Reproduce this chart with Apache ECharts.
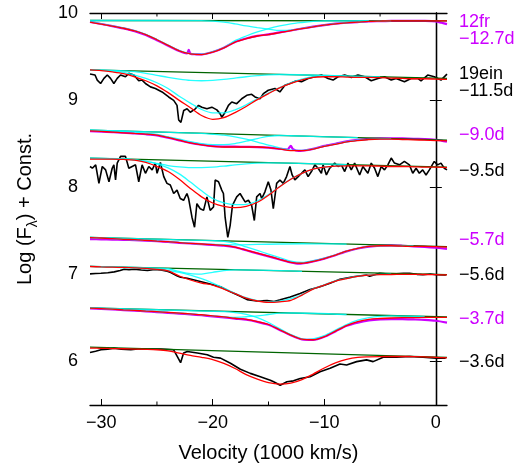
<!DOCTYPE html>
<html><head><meta charset="utf-8">
<script src="https://cdn.jsdelivr.net/npm/echarts@6/dist/echarts.min.js"></script>
<style>html,body{margin:0;padding:0;background:#fff}#c{width:532px;height:468px}</style>
</head><body><div id="c"></div>
<script>
// ---------- DATA ----------
const velGrid = [-31,-30,-29,-28,-27,-26,-25,-24,-23,-22,-21,-20,-19,-18,-17,-16,-15,-14,-13,-12,-11,-10,-9,-8,-7,-6,-5,-4,-3,-2,-1,0,1];
const tickMajorX = [-30,-20,-10,0];
const tickMinorX = [-25,-15,-5];
const tickY = [6,7,8,9,10];
const labelTexts = ['12fr','\u221212.7d','19ein','\u221211.5d','\u22129.0d','\u22129.5d','\u22125.7d','\u22125.6d','\u22123.7d','\u22123.6d'];

// 12fr -12.7d
const s1Fit = [9.895,9.872,9.849,9.825,9.794,9.752,9.693,9.628,9.566,9.531,9.523,9.550,9.600,9.666,9.705,9.736,9.752,9.775,9.798,9.821,9.841,9.860,9.876,9.887,9.895,9.903,9.907,9.910,9.910,9.910,9.910,9.910,9.910];
const s1Cont = [[-31,9.914],[1,9.910]];
const s1CompA = [[-31,9.900],[-30,9.876],[-29,9.852],[-28,9.828],[-27,9.797],[-26,9.755],[-25,9.696],[-24,9.631],[-23,9.569],[-22,9.534],[-21,9.527],[-20,9.556],[-19,9.604],[-18,9.682],[-17,9.736],[-16,9.783],[-15,9.821],[-14,9.852],[-13,9.876],[-12,9.891],[-11,9.903],[-10,9.910],[-6,9.911]];
const s1CompB = [[-31,9.914],[-21,9.913],[-20,9.907],[-19,9.895],[-18,9.875],[-17,9.852],[-16,9.833],[-15,9.816],[-14,9.800],[-13,9.803],[-12,9.823],[-11,9.843],[-10,9.862],[-9,9.877],[-8,9.888],[-7,9.896],[-6,9.903],[-5,9.907],[-4,9.910]];
const s1Data = [[-31,9.898],[-30,9.874],[-29,9.850],[-28,9.824],[-27,9.792],[-26,9.748],[-25,9.688],[-24,9.624],[-23,9.563],[-22.6,9.543],[-22.3,9.536],[-22.15,9.578],[-22.0,9.533],[-21.5,9.526],[-21,9.525],[-20,9.552],[-19,9.602],[-18,9.668],[-17,9.708],[-16,9.738],[-15,9.754],[-14,9.777],[-13,9.799],[-12,9.822],[-11,9.843],[-10,9.861],[-9,9.877],[-8,9.888],[-7,9.896],[-6,9.903],[-5,9.906],[-4,9.909],[-3,9.910],[-2,9.910],[-1,9.909],[0,9.903],[0.5,9.888],[1,9.873]];

// 19ein -11.5d
const s2Fit = [9.346,9.338,9.323,9.303,9.268,9.222,9.164,9.086,8.997,8.912,8.823,8.780,8.799,8.857,8.927,9.005,9.075,9.140,9.191,9.233,9.261,9.268,9.268,9.264,9.261,9.261,9.257,9.253,9.249,9.245,9.245,9.241,9.237];
const s2Cont = [[-31,9.346],[1,9.249]];
const s2CompA = [[-31,9.346],[-30,9.342],[-29,9.334],[-28,9.319],[-27,9.288],[-26,9.249],[-25,9.199],[-24,9.133],[-23,9.044],[-22,8.966],[-21,8.893],[-20,8.854],[-19,8.854],[-18,8.888],[-17,8.947],[-16,9.016],[-15,9.082],[-14,9.144],[-13,9.199],[-12,9.241],[-11,9.268],[-10,9.280],[-9,9.279],[-5,9.267]];
const s2CompB = [[-31,9.346],[-29,9.342],[-27,9.327],[-26,9.307],[-25,9.284],[-24,9.261],[-23,9.241],[-22,9.226],[-21,9.222],[-20,9.226],[-19,9.237],[-18,9.253],[-17,9.268],[-16,9.280],[-15,9.290],[-14,9.294],[-8,9.276]];
const s2Data = [[-31,9.299],[-30.55,9.288],[-30.35,9.230],[-30.05,9.191],[-29.75,9.249],[-29.45,9.288],[-29.16,9.249],[-28.86,9.191],[-28.56,9.249],[-28.26,9.288],[-27.82,9.268],[-27.52,9.307],[-27.07,9.288],[-26.63,9.222],[-26.33,9.230],[-26.03,9.191],[-25.58,9.152],[-25.14,9.133],[-24.54,9.094],[-23.95,9.036],[-23.5,8.997],[-23.2,8.939],[-23.05,8.772],[-22.85,8.745],[-22.6,8.881],[-22.3,8.900],[-22.01,8.861],[-21.56,8.900],[-21.27,8.939],[-20.97,8.919],[-20.52,8.900],[-20.08,8.919],[-19.63,8.888],[-19.33,8.842],[-19.18,8.803],[-18.89,8.861],[-18.59,8.939],[-18.29,8.978],[-17.85,8.959],[-17.4,9.016],[-16.95,9.055],[-16.51,9.067],[-16.21,9.036],[-15.76,9.016],[-15.46,9.075],[-15.02,9.113],[-14.42,9.133],[-13.98,9.094],[-13.53,9.171],[-13.08,9.191],[-12.49,9.222],[-12.04,9.210],[-11.45,9.249],[-10.85,9.268],[-10.26,9.288],[-9.66,9.249],[-9.21,9.230],[-8.77,9.268],[-8.17,9.288],[-7.57,9.261],[-6.98,9.288],[-6.38,9.268],[-5.79,9.222],[-5.19,9.249],[-4.6,9.268],[-4.0,9.230],[-3.56,9.249],[-2.81,9.210],[-2.22,9.249],[-1.62,9.249],[-1.33,9.222],[-0.73,9.288],[-0.14,9.268],[0.46,9.230],[1.0,9.299]];

// -9.0d
const s3Fit = [8.648,8.641,8.633,8.625,8.617,8.610,8.598,8.571,8.540,8.509,8.486,8.470,8.462,8.462,8.462,8.462,8.455,8.439,8.421,8.419,8.437,8.470,8.493,8.520,8.536,8.548,8.552,8.552,8.548,8.544,8.540,8.536,8.532];
const s3Cont = [[-31,8.656],[1,8.540]];
const s3CompA = [[-31,8.656],[-29,8.648],[-27,8.633],[-26,8.621],[-25,8.606],[-24,8.579],[-23,8.552],[-22,8.524],[-21,8.501],[-20,8.490],[-19,8.490],[-18,8.501],[-17,8.528],[-16,8.559],[-15,8.583],[-14,8.594],[-13,8.591],[-7,8.569]];
const s3CompB = [[-31,8.656],[-21,8.617],[-20,8.608],[-19,8.597],[-18,8.578],[-17,8.551],[-16,8.519],[-15,8.483],[-14,8.450],[-13,8.426],[-12,8.422],[-11,8.439],[-10,8.472],[-9,8.496],[-8,8.522],[-7,8.539],[-6,8.550],[-5,8.554],[-4,8.555]];
const s3Data = [[-31,8.645],[-30,8.638],[-29,8.633],[-28,8.627],[-27,8.617],[-26,8.608],[-25,8.595],[-24,8.568],[-23,8.538],[-22,8.510],[-21,8.488],[-20,8.472],[-19,8.467],[-18,8.465],[-17,8.463],[-16,8.461],[-15,8.455],[-14,8.441],[-13.3,8.433],[-13,8.475],[-12.8,8.437],[-12.3,8.417],[-12,8.419],[-11,8.441],[-10,8.474],[-9,8.499],[-8,8.526],[-7,8.544],[-6,8.556],[-5,8.561],[-4,8.562],[-3,8.560],[-2,8.555],[-1,8.553],[0,8.545],[0.5,8.535],[1,8.523]];

// -9.5d
const s4Fit = [8.323,8.323,8.323,8.319,8.311,8.284,8.238,8.180,8.091,7.986,7.889,7.819,7.780,7.765,7.780,7.827,7.908,8.005,8.091,8.160,8.207,8.230,8.242,8.246,8.246,8.246,8.242,8.238,8.238,8.234,8.230,8.230,8.226];
const s4Cont = [[-31,8.335],[1,8.230]];
const s4CompA = [[-31,8.331],[-28,8.323],[-27,8.315],[-26,8.300],[-25,8.269],[-24,8.222],[-23,8.153],[-22,8.059],[-21,7.959],[-20,7.870],[-19,7.819],[-18,7.800],[-17,7.804],[-16,7.842],[-15,7.916],[-14,8.009],[-13,8.094],[-12,8.160],[-11,8.207],[-10,8.230],[-9,8.242],[-8,8.253]];
const s4CompB = [[-31,8.335],[-28,8.327],[-27,8.315],[-26,8.296],[-25,8.273],[-24,8.249],[-23,8.234],[-22,8.226],[-21,8.226],[-20,8.230],[-19,8.242],[-18,8.257],[-17,8.269],[-16,8.277],[-15,8.280],[-8,8.260]];
const s4Data = [[-31,8.238],[-30.79,8.218],[-30.49,8.257],[-30.2,8.044],[-29.9,8.238],[-29.6,8.199],[-29.3,8.063],[-29.01,8.218],[-28.86,8.257],[-28.71,8.083],[-28.56,8.277],[-28.26,8.354],[-28.11,8.335],[-27.82,8.354],[-27.52,8.218],[-27.22,8.238],[-26.92,8.257],[-26.63,8.063],[-26.33,8.257],[-26.03,8.160],[-25.73,8.238],[-25.43,8.199],[-25.14,8.277],[-24.99,8.160],[-24.69,8.284],[-24.39,8.122],[-24.1,8.044],[-23.8,8.025],[-23.5,7.928],[-23.2,7.967],[-22.91,7.870],[-22.61,7.850],[-22.31,7.928],[-22.16,7.870],[-21.86,7.656],[-21.63,7.540],[-21.42,7.811],[-21.12,7.753],[-20.82,7.734],[-20.52,7.889],[-20.23,7.734],[-19.93,7.773],[-19.78,8.083],[-19.48,8.063],[-19.19,7.967],[-19.04,7.928],[-18.89,7.656],[-18.65,7.424],[-18.44,7.560],[-18.23,7.792],[-17.85,7.889],[-17.55,7.928],[-17.1,7.831],[-16.8,7.850],[-16.51,7.792],[-16.27,7.618],[-16.06,7.889],[-15.76,7.928],[-15.61,7.870],[-15.32,7.947],[-15.02,8.063],[-14.78,7.967],[-14.57,7.753],[-14.27,8.044],[-13.98,8.083],[-13.68,8.044],[-13.38,8.122],[-13.08,8.238],[-12.88,8.141],[-12.64,8.083],[-12.34,8.122],[-12.04,8.160],[-11.74,8.199],[-11.45,8.122],[-11.15,8.180],[-10.85,8.257],[-10.55,8.218],[-10.26,8.160],[-10.11,8.257],[-9.81,8.141],[-9.51,8.218],[-9.07,8.277],[-8.77,8.238],[-8.47,8.257],[-8.17,8.180],[-7.88,8.277],[-7.58,8.199],[-7.28,8.277],[-6.83,8.141],[-6.54,8.238],[-6.09,8.160],[-5.79,8.277],[-5.49,8.218],[-5.2,8.122],[-4.9,8.238],[-4.6,8.199],[-4.3,8.257],[-4.0,8.335],[-3.71,8.277],[-3.26,8.257],[-2.82,8.296],[-2.37,8.257],[-2.07,8.160],[-1.77,8.218],[-1.48,8.160],[-1.18,8.199],[-0.88,8.141],[-0.58,8.199],[-0.14,8.296],[0.16,8.257],[0.46,8.277],[0.76,8.218],[1.0,8.199]];

// -5.7d
const s5Fit = [7.421,7.417,7.410,7.402,7.398,7.390,7.382,7.375,7.363,7.355,7.348,7.340,7.332,7.313,7.278,7.243,7.208,7.173,7.138,7.127,7.150,7.181,7.220,7.266,7.297,7.320,7.328,7.328,7.324,7.320,7.320,7.317,7.313];
const s5Cont = [[-31,7.425],[1,7.317]];
const s5CompA = [[-31,7.423],[-28,7.403],[-26,7.390],[-24,7.376],[-22,7.356],[-20,7.343],[-18,7.338],[-16,7.343],[-14,7.348],[-12,7.351],[-10,7.350],[-8,7.347]];
const s5CompB = [[-31,7.425],[-22,7.393],[-20,7.386],[-19,7.379],[-18,7.355],[-17,7.315],[-16,7.274],[-15,7.233],[-14,7.193],[-13,7.152],[-12,7.136],[-11,7.156],[-10,7.185],[-9,7.222],[-8,7.266],[-7,7.297],[-6,7.320],[-5,7.328],[-2,7.327]];
const s5Data = [[-31,7.404],[-30,7.402],[-29,7.399],[-28,7.396],[-27,7.393],[-26,7.387],[-25,7.380],[-24,7.373],[-23,7.362],[-22,7.354],[-21,7.346],[-20,7.338],[-19,7.330],[-18,7.311],[-17,7.276],[-16,7.241],[-15,7.206],[-14,7.171],[-13,7.137],[-12.3,7.122],[-12,7.124],[-11,7.148],[-10,7.180],[-9,7.219],[-8,7.264],[-7,7.296],[-6,7.319],[-5,7.330],[-4,7.332],[-3,7.328],[-2,7.322],[-1,7.315],[0,7.305],[1,7.292]];

// -5.6d
const s6Fit = [7.090,7.085,7.082,7.079,7.075,7.069,7.057,7.040,6.981,6.935,6.900,6.877,6.830,6.778,6.726,6.694,6.678,6.685,6.702,6.761,6.830,6.877,6.923,6.952,6.976,6.990,6.996,6.998,6.999,6.999,6.998,6.996,6.993];
const s6Cont = [[-31,7.092],[1,6.996]];
const s6CompA = [[-31,7.092],[-25,7.072],[-24,7.064],[-23,7.033],[-22,7.008],[-21,7.003],[-20,7.023],[-19,7.043],[-18,7.051],[-12,7.035]];
const s6CompB = [[-31,7.092],[-25,7.059],[-24,7.044],[-23,7.022],[-22,6.991],[-21,6.950],[-20,6.899],[-19,6.842],[-18,6.783],[-17,6.732],[-16,6.697],[-15,6.682],[-14,6.691],[-13,6.720],[-12,6.765],[-11,6.833],[-10,6.880],[-9,6.925],[-8,6.954],[-7,6.978],[-6,6.992],[-5,6.999],[-4,7.003]];
const s6Data = [[-31,7.005],[-30.5,7.010],[-30.02,7.013],[-29.4,7.018],[-28.83,7.028],[-28.3,7.045],[-27.94,7.059],[-27.5,7.052],[-27.04,7.059],[-26.4,7.050],[-25.85,7.044],[-25.2,7.055],[-24.66,7.051],[-24.2,7.040],[-23.77,7.020],[-23.17,6.981],[-22.88,6.966],[-22.28,6.955],[-21.38,6.927],[-20.49,6.897],[-19.3,6.857],[-18.41,6.799],[-17.52,6.749],[-16.92,6.710],[-16.03,6.694],[-15.13,6.700],[-14.5,6.688],[-13.95,6.708],[-13.06,6.741],[-12.17,6.780],[-11.28,6.827],[-10.38,6.857],[-9.49,6.897],[-8.6,6.943],[-7.41,6.973],[-6.22,6.993],[-5.93,6.978],[-5.03,7.013],[-4.3,7.003],[-3.54,7.005],[-2.9,7.012],[-2.35,7.013],[-1.7,7.000],[-1.16,6.995],[-0.5,7.003],[0.03,6.996],[0.9,6.993]];

// -3.7d
const s7Fit = [6.612,6.606,6.600,6.593,6.586,6.578,6.571,6.563,6.555,6.546,6.536,6.522,6.511,6.496,6.484,6.458,6.424,6.364,6.302,6.255,6.249,6.284,6.348,6.412,6.458,6.484,6.493,6.499,6.502,6.503,6.505,6.506,6.507];
const s7Cont = [[-31,6.614],[1,6.510]];
const s7CompA = [[-31,6.614],[-29,6.602],[-27,6.588],[-26,6.579],[-25,6.572],[-24,6.563],[-23,6.555],[-22,6.546],[-21,6.536],[-20,6.523],[-19,6.513],[-18,6.507],[-17,6.513],[-16,6.522],[-15,6.539],[-14,6.554],[-13,6.556],[-8,6.539]];
const s7CompB = [[-31,6.614],[-19,6.571],[-18,6.561],[-17,6.540],[-16,6.503],[-15,6.447],[-14,6.376],[-13,6.307],[-12,6.259],[-11.5,6.254],[-11,6.259],[-10,6.297],[-9,6.360],[-8,6.424],[-7,6.474],[-6,6.504],[-5,6.518],[-4,6.522],[-1,6.516]];
const s7Data = [[-31,6.610],[-30,6.604],[-29,6.597],[-28,6.590],[-27,6.583],[-26,6.575],[-25,6.567],[-24,6.558],[-23,6.549],[-22,6.540],[-21,6.530],[-20,6.517],[-19,6.506],[-18,6.492],[-17,6.480],[-16,6.455],[-15,6.421],[-14,6.362],[-13,6.300],[-12,6.252],[-11,6.247],[-10,6.283],[-9,6.345],[-8,6.409],[-7,6.446],[-6,6.470],[-5,6.482],[-4,6.486],[-3,6.486],[-2,6.482],[-1,6.477],[0,6.467],[1,6.446]];

// -3.6d
const s8Fit = [6.153,6.151,6.148,6.146,6.142,6.139,6.134,6.122,6.096,6.070,6.047,6.020,5.977,5.919,5.849,5.797,5.756,5.739,5.750,5.791,5.855,5.925,5.983,6.024,6.047,6.053,6.056,6.057,6.057,6.056,6.053,6.047,6.041];
const s8Cont = [[-31,6.165],[1,6.047]];
const s8Data = [[-31,6.103],[-30.5,6.118],[-30.02,6.134],[-29.4,6.140],[-28.86,6.153],[-28.2,6.140],[-27.34,6.134],[-26.5,6.145],[-25.82,6.141],[-24.66,6.141],[-23.5,6.134],[-23.17,6.056],[-22.88,5.986],[-22.61,6.096],[-22.28,6.114],[-21.38,6.096],[-20.49,6.076],[-19.93,6.049],[-19.3,6.038],[-18.41,5.979],[-17.52,5.910],[-16.63,5.863],[-15.73,5.824],[-14.84,5.785],[-14.54,5.766],[-13.95,5.727],[-13.35,5.766],[-12.76,5.777],[-12.16,5.805],[-11.27,5.824],[-10.38,5.882],[-9.48,5.921],[-8.59,5.971],[-8.0,5.960],[-7.1,5.998],[-6.21,6.018],[-5.62,5.998],[-4.72,6.049],[-3.53,6.049],[-2.34,6.056],[-1.15,6.049],[0.04,6.038],[0.88,6.038]];

// ---------- STYLE / LAYOUT ----------
const FONT = '"Liberation Sans", Arial, Helvetica, sans-serif';
const MAG = '#cc00ff', BLK = '#000000', RED = '#ff0000', CYAN = '#00ffff', GREEN = '#006400';
const labelLayout = [
  {y:21.7, c:MAG},{y:39.3, c:MAG},{y:74, c:BLK},{y:90.7, c:BLK},{y:135, c:MAG},
  {y:170.7, c:BLK},{y:240, c:MAG},{y:275, c:BLK},{y:319.3, c:MAG},{y:361.7, c:BLK}
];

function gridPairs(ys){ return velGrid.map((x,i)=>[x, ys[i]]); }

const spectra = [
  {data:s1Data, col:MAG, cont:s1Cont, comps:[s1CompA,s1CompB], fit:s1Fit},
  {data:s2Data, col:BLK, cont:s2Cont, comps:[s2CompA,s2CompB], fit:s2Fit},
  {data:s3Data, col:MAG, cont:s3Cont, comps:[s3CompA,s3CompB], fit:s3Fit},
  {data:s4Data, col:BLK, cont:s4Cont, comps:[s4CompA,s4CompB], fit:s4Fit},
  {data:s5Data, col:MAG, cont:s5Cont, comps:[s5CompA,s5CompB], fit:s5Fit},
  {data:s6Data, col:BLK, cont:s6Cont, comps:[s6CompA,s6CompB], fit:s6Fit},
  {data:s7Data, col:MAG, cont:s7Cont, comps:[s7CompA,s7CompB], fit:s7Fit},
  {data:s8Data, col:BLK, cont:s8Cont, comps:[], fit:s8Fit}
];

const base = {type:'line', symbol:'none', silent:true, animation:false, xAxisIndex:0, yAxisIndex:0};
const series = [];
spectra.forEach(sp => {
  const isMag = sp.col === MAG;
  series.push(Object.assign({}, base, {data: sp.data, smooth: isMag ? 0.25 : false, z:2,
    lineStyle:{color: sp.col, width: isMag ? 2.2 : 1.6}}));
  series.push(Object.assign({}, base, {data: sp.cont, z:3, lineStyle:{color: GREEN, width:1.3}}));
  sp.comps.forEach(c => series.push(Object.assign({}, base, {data: c, smooth:0.3, z:4,
    lineStyle:{color: CYAN, width:1.3, opacity:0.85}})));
  series.push(Object.assign({}, base, {data: gridPairs(sp.fit), smooth:0.3, z:5,
    lineStyle:{color: RED, width:1.3}}));
});
// minor ticks on bottom and top through the axis scale
series.push({type:'custom', silent:true, animation:false, xAxisIndex:0, yAxisIndex:0, z:10, clip:false,
  data: tickMinorX.map(v => [v, 5.5]),
  renderItem: (params, api) => {
    const b = api.coord([api.value(0), 5.5]);
    const t = api.coord([api.value(0), 10]);
    return {type:'group', children:[
      {type:'line', shape:{x1:b[0], y1:b[1], x2:b[0], y2:b[1]-3.5}, style:{stroke:'#000', lineWidth:1}},
      {type:'line', shape:{x1:t[0], y1:t[1], x2:t[0], y2:t[1]+3.5}, style:{stroke:'#000', lineWidth:1}}
    ]};
  }});

const axisLineStyle = {show:true, lineStyle:{color:'#000', width:1.3}};
const tickStyle = {color:'#000', width:1};
const labelStyle = {color:'#000', fontSize:18, fontFamily:FONT};
const fmt = v => String(v).replace('-', '\u2212');

const option = {
  animation:false,
  backgroundColor:'#fff',
  grid:{left:90, right:85, top:13, bottom:63, containLabel:false},
  xAxis:[
    {type:'value', min:-31, max:1, position:'bottom', axisLine:axisLineStyle,
     axisTick:{show:true, inside:true, length:6, customValues:tickMajorX, lineStyle:tickStyle},
     axisLabel:Object.assign({show:true, customValues:tickMajorX, formatter:fmt, margin:9}, labelStyle),
     splitLine:{show:false},
     name:'Velocity (1000 km/s)', nameLocation:'middle', nameGap:38,
     nameTextStyle:{color:'#000', fontSize:20, fontFamily:FONT}},
    {type:'value', min:-31, max:1, position:'top', axisLine:axisLineStyle,
     axisTick:{show:true, inside:true, length:6, customValues:tickMajorX, lineStyle:tickStyle},
     axisLabel:{show:false}, splitLine:{show:false}}
  ],
  yAxis:[
    {type:'value', min:5.5, max:10, position:'left', axisLine:axisLineStyle,
     axisTick:{show:true, inside:true, length:6, customValues:tickY, lineStyle:tickStyle},
     axisLabel:Object.assign({show:true, customValues:tickY, margin:12}, labelStyle),
     splitLine:{show:false},
     name:'Log (F{sub|\u03bb}) + Const.', nameLocation:'middle', nameGap:50, nameRotate:90,
     nameTextStyle:{color:'#000', fontSize:20, fontFamily:FONT, lineHeight:30,
       rich:{sub:{fontSize:14, fontFamily:FONT, color:'#000', verticalAlign:'bottom', lineHeight:30}}}},
    {type:'value', min:5.5, max:10, position:'right', axisLine:axisLineStyle,
     axisTick:{show:true, inside:true, length:6, customValues:tickY, lineStyle:tickStyle},
     axisLabel:{show:false}, splitLine:{show:false}}
  ],
  graphic: labelTexts.map((t, i) => ({type:'text', x:459, y:labelLayout[i].y, silent:true,
    style:{text:t, fill:labelLayout[i].c, font:'18px ' + FONT, verticalAlign:'middle', align:'left'}})),
  series: series
};

const chart = echarts.init(document.getElementById('c'), null, {renderer:'canvas', width:532, height:468});
chart.setOption(option);
</script></body></html>
